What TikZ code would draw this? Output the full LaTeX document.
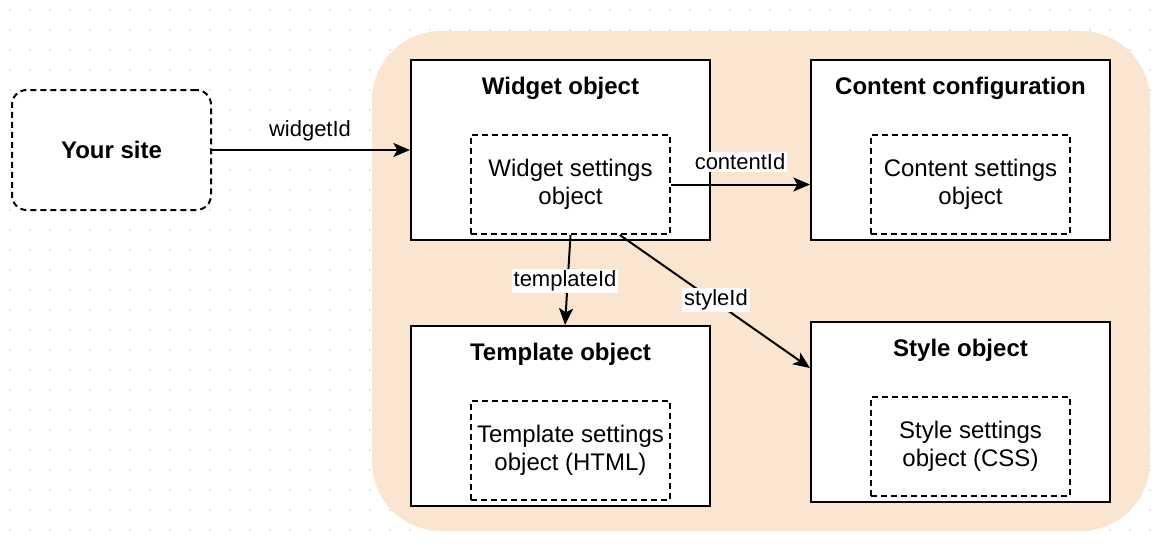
\documentclass[tikz,border=0pt]{standalone}
\usepackage{fontspec}
\setmainfont{Liberation Sans}
\usetikzlibrary{arrows.meta,calc}
\definecolor{peach}{RGB}{250,230,208}
\definecolor{dotgray}{RGB}{205,205,205}
\begin{document}
\begin{tikzpicture}[x=0.75pt,y=-0.75pt,
  box/.style={draw,line width=1.5pt,fill=white,minimum width=299*0.75pt,minimum height=180*0.75pt,inner sep=0pt},
  inbox/.style={draw,line width=1.5pt,dash pattern=on 4.5pt off 3pt,fill=white,minimum width=199*0.75pt,minimum height=99*0.75pt,align=center,inner sep=0pt,font=\fontsize{18}{21}\selectfont},
  titletext/.style={font=\bfseries\fontsize{18}{21}\selectfont,inner sep=0pt},
  lbl/.style={font=\fontsize{16.5}{19}\selectfont,fill=white,inner sep=1.5pt},
  conn/.style={line width=1.5pt,-{Stealth[length=12.5pt,width=10.5pt,inset=3pt]}}]
\useasboundingbox (0,0) rectangle (1164,546);
\foreach \i in {0,...,57} \foreach \j in {0,...,26} \fill[dotgray] (10+20*\i,10+20*\j) circle (0.6pt);
\fill[peach,rounded corners=52pt] (372,31) rectangle (1150,531);
% nodes
\node[draw,line width=1.5pt,dash pattern=on 4.5pt off 3pt,rounded corners=11pt,minimum width=199*0.75pt,minimum height=120*0.75pt,fill=white,titletext] (site) at (111.5,150) {Your site};
\node[box] (widget) at (560.5,150) {};
\node[titletext] (wt) at (560.5,88.5) {Widget object};
\node[inbox] (win) at (570.5,184.5) {Widget settings\\object};
\node[box] (content) at (960.5,150) {};
\node[titletext] (ct) at (960.5,88.5) {Content configuration};
\node[inbox] (cin) at (970.5,184.5) {Content settings\\object};
\node[box] (tmpl) at (560.5,416) {};
\node[titletext] (tt) at (560.5,354.5) {Template object};
\node[inbox] (tin) at (570.5,450.5) {Template settings\\object (HTML)};
\node[box] (style) at (960.5,412) {};
\node[titletext] (st) at (960.5,350.5) {Style object};
\node[inbox] (sin) at (970.5,446.5) {Style settings\\object (CSS)};
% connectors
\draw[conn] (site.east) -- (site.east -| widget.west);
\node[lbl] (l1) at (310,131) {widgetId};
\draw[conn] (win.east) -- (win.east -| content.west);
\node[lbl] (l2) at (740,162) {contentId};
\draw[conn] (win.south) -- ([xshift=3.4pt]tmpl.north);
\node[lbl] (l3) at (565,281) {templateId};
\draw[conn] ([xshift=37pt]win.south) -- ([yshift=33pt]style.west);
\node[lbl] (l4) at (716,300) {styleId};
\end{tikzpicture}
\end{document}
